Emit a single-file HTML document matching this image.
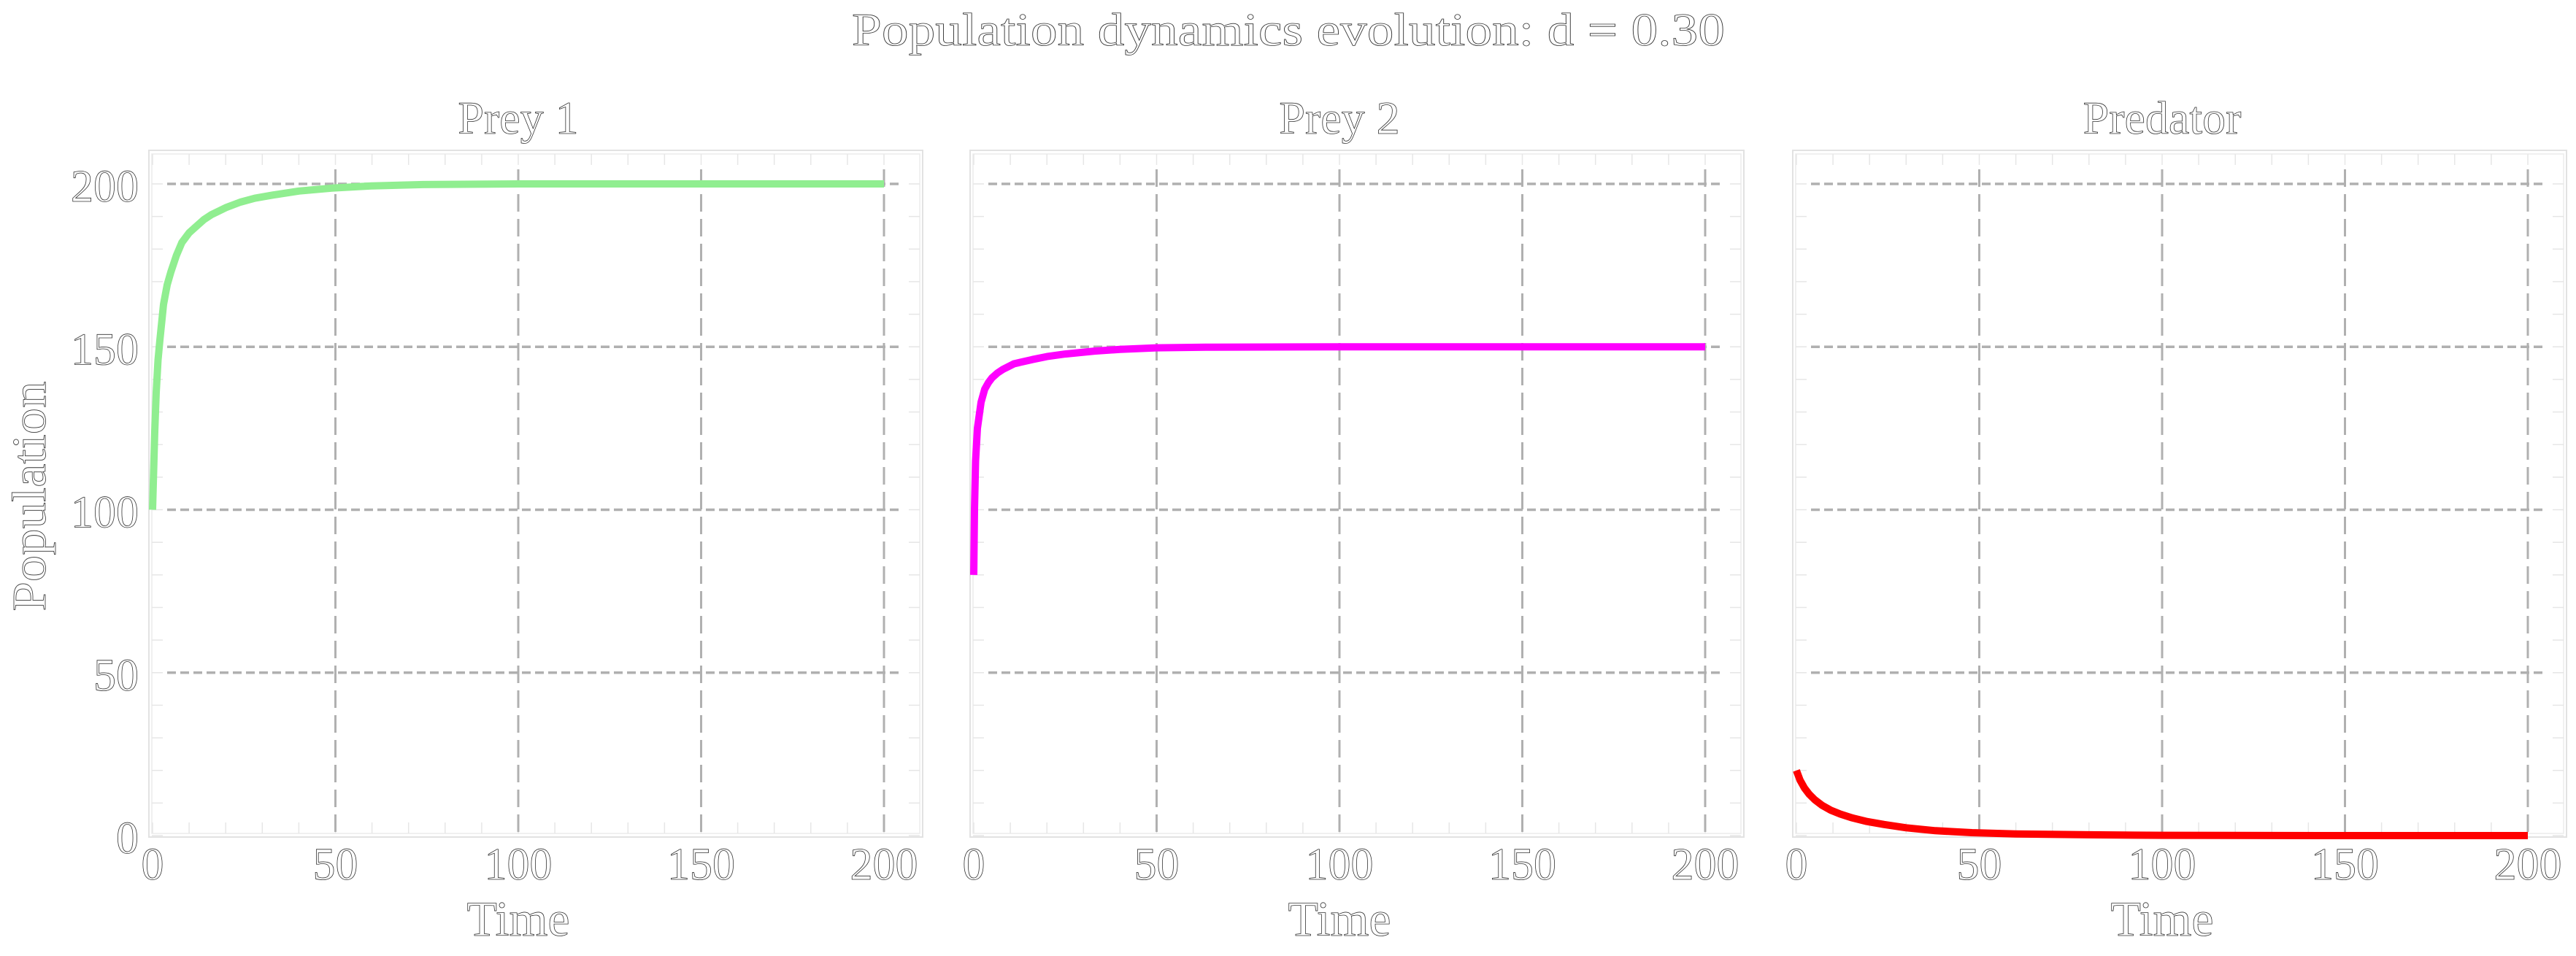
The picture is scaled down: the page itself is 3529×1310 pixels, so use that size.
<!DOCTYPE html>
<html><head><meta charset="utf-8"><style>
html,body{margin:0;padding:0;background:#fff;}
svg{display:block;}
text{font-family:"Liberation Serif",serif;fill:#fff;stroke:#333;stroke-width:0.8;}
</style></head><body>
<svg id="fig" width="3529" height="1310" viewBox="0 0 3529 1310" xmlns="http://www.w3.org/2000/svg">
<text x="1765" y="62" font-size="64" text-anchor="middle" textLength="1196" lengthAdjust="spacingAndGlyphs">Population dynamics evolution: d = 0.30</text>
<text transform="translate(62,680) rotate(-90)" font-size="66" text-anchor="middle" textLength="315" lengthAdjust="spacingAndGlyphs">Population</text>
<g id="panels"></g>
</svg>
<script>
const xTicks = [0, 50, 100, 150, 200];
const yTicks = [0, 50, 100, 150, 200];
const panelTitles = ["Prey 1", "Prey 2", "Predator"];
const seriesColors = ["#90ee90", "#ff00ff", "#ff0000"];
const prey1Time = [0, 0.3, 0.6, 1, 1.5, 2, 3, 4, 5, 6.5, 8, 10, 12, 14, 16, 20, 24, 28, 33, 40, 49, 60, 74, 100, 150, 200];
const prey1Values = [100, 112, 124, 136, 146, 152, 163, 169, 173, 178, 182, 185, 187, 189, 190.5, 192.7, 194.4, 195.6, 196.6, 197.8, 198.7, 199.4, 199.8, 200, 200, 200];
const prey2Time = [0, 0.2, 0.5, 1, 2, 3, 4, 5, 6.5, 8, 11, 16, 20, 25, 33, 40, 50, 65, 100, 150, 200];
const prey2Values = [80, 100, 115, 125, 133, 137, 139, 140.5, 142, 143.1, 144.8, 146.1, 147, 147.8, 148.7, 149.2, 149.7, 149.9, 150, 150, 150];
const predTime = [0, 1, 2.2, 3.5, 5, 7, 9.4, 12, 15, 19, 24, 30, 38, 48, 60, 80, 100, 150, 200];
const predValues = [20, 17, 14.6, 12.7, 11, 9.3, 7.8, 6.6, 5.5, 4.4, 3.4, 2.4, 1.5, 0.9, 0.5, 0.25, 0.1, 0, 0];
const seriesTimes = [prey1Time, prey2Time, predTime];
const seriesValues = [prey1Values, prey2Values, predValues];

const NS = "http://www.w3.org/2000/svg";
const root = document.getElementById("panels");
const panelX0 = [209, 1334, 2461];
const pxPerX = 5.01, y0px = 1145, pxPerY = 4.465;
function mk(tag, attrs, parent){
  const e = document.createElementNS(NS, tag);
  for (const k in attrs) e.setAttribute(k, attrs[k]);
  parent.appendChild(e); return e;
}
for (let p = 0; p < 3; p++) {
  const x0 = panelX0[p];
  const X = v => x0 + v * pxPerX;
  const Y = v => y0px - v * pxPerY;
  const g = mk("g", {}, root);
  
  
  const L = x0 - 5, R = x0 + 1055, T = 206, B = 1147;
  const frame = mk("rect", {x: L, y: T, width: R - L, height: B - T, fill: "none", stroke: "#e2e2e2", "stroke-width": 2}, g);
  
  
  mk("rect", {x: L + 4, y: T + 5, width: R - L - 8, height: B - T - 10, fill: "none", stroke: "#ececec", "stroke-width": 1.5}, g);
  for (let t = 0; t <= 210; t += 10) {
    const xx = X(t); if (xx > R - 4) continue;
    mk("line", {x1: xx, y1: B - 5, x2: xx, y2: B - 20, stroke: "#e6e6e6", "stroke-width": 1.5}, g);
    mk("line", {x1: xx, y1: T + 5, x2: xx, y2: T + 20, stroke: "#e6e6e6", "stroke-width": 1.5}, g);
  }
  for (let v = 0; v <= 210; v += 10) {
    const yy = Y(v); if (yy < T + 5) continue;
    mk("line", {x1: L + 4, y1: yy, x2: L + 19, y2: yy, stroke: "#e6e6e6", "stroke-width": 1.5}, g);
    mk("line", {x1: R - 4, y1: yy, x2: R - 19, y2: yy, stroke: "#e6e6e6", "stroke-width": 1.5}, g);
  }
  xTicks.forEach(t => {
    if (t === 0) return;
    const gl = mk("line", {x1: X(t), y1: 232, x2: X(t), y2: y0px, stroke: "#b0b0b0", "stroke-width": 3, "stroke-dasharray": "24 10"}, g);
    
    
  });
  yTicks.forEach(v => {
    if (v === 0) return;
    const gl = mk("line", {x1: L + 25, y1: Y(v), x2: R - 28, y2: Y(v), stroke: "#b0b0b0", "stroke-width": 3.5, "stroke-dasharray": "12 6"}, g);
    
    
  });
  const ts = seriesTimes[p], vs = seriesValues[p];
  const pts = ts.map((t, i) => X(t).toFixed(1) + "," + Y(vs[i]).toFixed(1)).join(" ");
  const line = mk("polyline", {points: pts, fill: "none", stroke: seriesColors[p], "stroke-width": 10, "stroke-linejoin": "round"}, g);
  
  
  xTicks.forEach(t => {
    const s = String(t);
    const tx = mk("text", {x: X(t), y: 1205, "font-size": 62, "text-anchor": "middle", textLength: 31 * s.length, lengthAdjust: "spacingAndGlyphs"}, g);
    tx.textContent = s;
    
    
  });
  if (p === 0) {
    yTicks.forEach(v => {
      const s = String(v);
      const ty = mk("text", {x: 190, y: Y(v) + 24, "font-size": 62, "text-anchor": "end", textLength: 31 * s.length, lengthAdjust: "spacingAndGlyphs"}, g);
      ty.textContent = s;
      
      
    });
  }
  const xt = mk("text", {x: X(100), y: 1282, "font-size": 68, "text-anchor": "middle"}, g);
  xt.textContent = "Time";
  
  
  const pt = mk("text", {x: X(100), y: 183, "font-size": 64, "text-anchor": "middle"}, g);
  pt.textContent = panelTitles[p];
  
  
}
</script>
</body></html>
